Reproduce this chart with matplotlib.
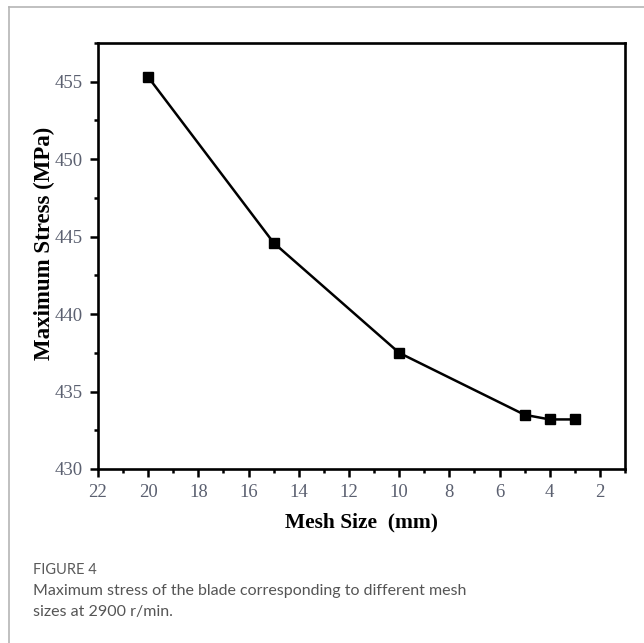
import matplotlib
matplotlib.use('Agg')
import matplotlib.pyplot as plt
from matplotlib.ticker import MultipleLocator
from matplotlib.lines import Line2D

# Mesh size vs maximum stress
mesh_size = [20, 15, 10, 5, 4, 3]
max_stress = [455.3, 444.6, 437.5, 433.5, 433.2, 433.2]

x_ticks = [22, 20, 18, 16, 14, 12, 10, 8, 6, 4, 2]
y_ticks = [430, 435, 440, 445, 450, 455]

fig = plt.figure(figsize=(6.44, 6.43), dpi=100)

# thin gray frame of the figure panel
fig.add_artist(Line2D([9/644, 1], [1 - 7/643, 1 - 7/643], color='#b5b5b5', lw=1.2))
fig.add_artist(Line2D([9/644, 9/644], [0, 1 - 7/643], color='#b5b5b5', lw=1.2))

ax = fig.add_axes([98/644, 1 - 469/643, (625 - 98)/644, (469 - 43)/643])
ax.plot(mesh_size, max_stress, 'k-', marker='s', markersize=7, lw=1.8)

ax.set_xlim(22, 1)
ax.set_ylim(430, 457.5)
ax.set_xticks(x_ticks)
ax.set_yticks(y_ticks)
ax.xaxis.set_minor_locator(MultipleLocator(1))
ax.yaxis.set_minor_locator(MultipleLocator(2.5))

for s in ax.spines.values():
    s.set_linewidth(1.9)
ax.tick_params(which='both', direction='out', top=False, right=False, width=1.8, colors='k',
               labelcolor='#5b6070')
ax.tick_params(which='major', length=6, labelsize=13.5, pad=5)
ax.tick_params(which='minor', length=3)
for lab in ax.get_xticklabels() + ax.get_yticklabels():
    lab.set_family('Liberation Serif')

ax.set_xlabel('Mesh Size  (mm)', family='Liberation Serif', fontweight='bold', fontsize=15.5)
ax.set_ylabel('Maximum Stress (MPa)', family='Liberation Serif', fontweight='bold', fontsize=16.5)
ax.xaxis.set_label_coords(0.5, -(512 - 469) / 426)
ax.yaxis.set_label_coords((55 - 98) / 527, 0.53)

fig.text(33/644, 1 - 570/643, 'FIGURE 4', family='Lato', fontsize=10.5, color='#5a5a5a', va='center')
fig.text(33/644, 1 - 591/643, 'Maximum stress of the blade corresponding to different mesh',
         family='Lato', fontsize=11.5, color='#555555', va='center')
fig.text(33/644, 1 - 612/643, 'sizes at 2900 r/min.',
         family='Lato', fontsize=11.5, color='#555555', va='center')

fig.savefig('out.png', dpi=100)
